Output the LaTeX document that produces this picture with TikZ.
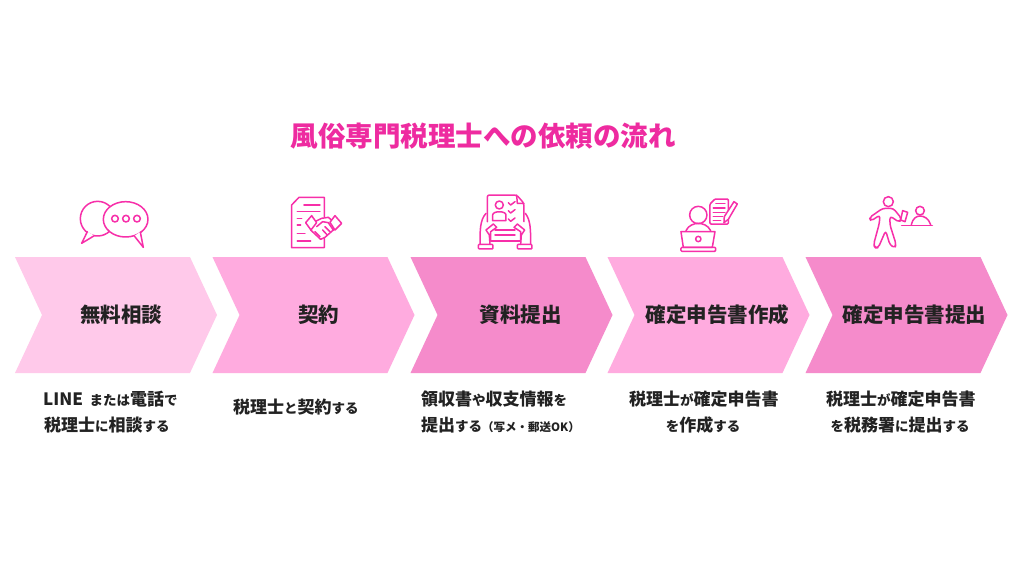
\documentclass[tikz,border=0pt]{standalone}
\usepackage{fontspec}
\setmainfont{Noto Sans CJK JP}
\usetikzlibrary{positioning, calc, shapes.symbols}
\definecolor{lightpink}{HTML}{FFC9EA}
\definecolor{midpink}{HTML}{FFABDF}
\definecolor{deeppink}{HTML}{F58BCB}
\definecolor{iconpink}{HTML}{F72FA9}
\definecolor{titlepink}{HTML}{EE2BA0}
\definecolor{inkgray}{HTML}{222222}
\newcommand{\kn}[1]{{\fontsize{13.5}{13.5}\selectfont #1}}
\newcommand{\paren}[1]{{\fontsize{11.5}{11.5}\selectfont #1}}
\tikzset{
  chevron/.style={
    shape=signal,
    signal from=west,
    signal to=east,
    signal pointer angle=130,
    minimum width=202pt,
    minimum height=116pt,
    inner sep=0pt,
    outer sep=0pt
  },
  headtext/.style={
    font=\fontsize{20.5}{20.5}\selectfont\bfseries,
    text=inkgray,
    inner sep=0pt
  },
  desctext/.style={
    font=\fontsize{17}{17}\selectfont\bfseries,
    text=inkgray,
    inner sep=0pt,
    anchor=base west
  },
  icon/.style={
    draw=iconpink,
    line width=1.5pt,
    line join=round,
    line cap=round
  },
  zoomed/.style={
    x=0.3333pt,
    y=-0.3333pt
  }
}
\begin{document}
\begin{tikzpicture}[x=1pt, y=-1pt]
  \useasboundingbox[fill=white] (0,0) rectangle (1024,576);

  \node[font=\fontsize{27.5}{27.5}\selectfont\bfseries, text=titlepink, inner sep=0pt] (title) at (483,136) {風俗専門税理士への依頼の流れ};

  % arrows
  \node[chevron, fill=lightpink] (soudan) at (116,315) {};
  \node[chevron, fill=midpink] (keiyaku) at (313.5,315) {};
  \node[chevron, fill=deeppink] (shiryou) at (511.5,315) {};
  \node[chevron, fill=midpink] (sakusei) at (708.5,315) {};
  \node[chevron, fill=deeppink] (teishutsu) at (906.5,315) {};

  \node[headtext] (soudanlabel) at ($(soudan.center)+(5,0)$) {無料相談};
  \node[headtext] (keiyakulabel) at ($(keiyaku.center)+(5,0)$) {契約};
  \node[headtext] (shiryoulabel) at ($(shiryou.center)+(9,0)$) {資料提出};
  \node[headtext] (sakuseilabel) at ($(sakusei.center)+(9,0)$) {確定申告書作成};
  \node[headtext] (teishutsulabel) at ($(teishutsu.center)+(8,0)$) {確定申告書提出};

  % descriptions
  \node[desctext] (soudandesc) at (43,405) {LINE {\,}\kn{または}電話\kn{で}};
  \node[desctext] (soudandesctwo) at (44,431) {税理士\kn{に}相談\kn{する}};
  \node[desctext] (keiyakudesc) at (233,413) {税理士\kn{と}契約\kn{する}};
  \node[desctext] (shiryoudesc) at (421,405) {領収書\kn{や}収支情報\kn{を}};
  \node[desctext] (shiryoudesctwo) at (421,431) {提出\kn{する}\paren{（写メ・郵送OK）}};
  \node[desctext] (sakuseidesc) at (629,405) {税理士\kn{が}確定申告書};
  \node[desctext, anchor=base] (sakuseidesctwo) at (703,431) {\kn{を}作成\kn{する}};
  \node[desctext] (teishutsudesc) at (826,405) {税理士\kn{が}確定申告書};
  \node[desctext, anchor=base] (teishutsudesctwo) at (900,431) {\kn{を}税務署\kn{に}提出\kn{する}};

  % talk icon
  \begin{scope}[shift={(0,180)}, zoomed]
    \draw[icon] (293,116) circle (52);
    \draw[icon, fill=white] (262,155) -- (245,190) -- (283,167);
    \draw[icon, fill=white] (377,118) ellipse (67 and 53);
    \draw[icon, fill=white] (403,168) -- (430,202) -- (421,156);
    \draw[icon] (345,116) circle (10);
    \draw[icon] (378,116) circle (10);
    \draw[icon] (411,116) circle (10);
  \end{scope}

  % contract icon
  \begin{scope}[shift={(0,180)}, zoomed]
    \draw[icon] (973,110) -- (973,52) -- (897,52) -- (875,75) -- (875,203) -- (973,203) -- (973,175);
    \draw[icon] (912,75) -- (960,75);
    \draw[icon] (892,95) -- (960,95);
    \draw[icon] (892,115) -- (905,115);
    \draw[icon] (892,135) -- (902,135);
    \draw[icon] (892,160) -- (915,160);
    \draw[icon] (892,183) -- (932,183);
    \draw[icon, fill=white] (945,125) -- (965,115) -- (985,112) -- (997,122) -- (1000,150) -- (975,172) -- (962,178) -- (932,150) -- cycle;
    \draw[icon] (950,140) -- (968,125) -- (985,128) -- (1000,150);
    \draw[icon] (975,140) -- (990,155);
    \draw[icon] (968,150) -- (982,165);
    \draw[icon] (945,155) -- (960,170);
    \draw[icon, fill=white] (935,107) -- (917,128) -- (933,150) -- (950,128) -- cycle;
    \draw[icon, fill=white] (1005,107) -- (1025,130) -- (1005,150) -- (990,127) -- cycle;
  \end{scope}

  % document icon
  \begin{scope}[shift={(400,180)}, zoomed]
    \draw[icon, rounded corners=2pt] (262,125) -- (262,45) -- (350,45) -- (372,70) -- (372,125);
    \draw[icon] (350,45) -- (352,70) -- (372,70);
    \draw[icon] (298,75) circle (12);
    \draw[icon] (278,122) -- (278,105) .. controls (278,92) and (318,92) .. (318,105) -- (318,122) -- cycle;
    \draw[icon] (325,68) -- (332,75) -- (345,65);
    \draw[icon] (325,92) -- (332,99) -- (345,89);
    \draw[icon] (325,117) -- (332,124) -- (345,114);
    \draw[icon] (285,150) -- (345,150);
    \draw[icon] (285,165) -- (345,165);
    \draw[icon] (272,183) -- (362,183);
    \draw[icon] (240,193) .. controls (240,150) and (240,120) .. (258,100);
    \draw[icon] (392,193) .. controls (392,150) and (392,120) .. (376,100);
    \draw[icon, fill=white] (270,193) -- (268,165) -- (258,150) -- (280,132) -- (290,142) -- (272,155) -- (272,183);
    \draw[icon, fill=white] (362,193) -- (364,165) -- (374,150) -- (352,132) -- (342,142) -- (362,155) -- (362,183);
    \draw[icon, rounded corners=1pt] (235,193) rectangle (279,207);
    \draw[icon, rounded corners=1pt] (352,193) rectangle (396,207);
  \end{scope}

  % laptop icon
  \begin{scope}[shift={(400,180)}, zoomed]
    \draw[icon] (895,105) circle (26);
    \draw[icon] (858,152) .. controls (865,135) and (885,130) .. (895,130) .. controls (905,130) and (925,135) .. (932,152);
    \draw[icon] (843,155) -- (945,155) -- (937,202) -- (850,202) -- cycle;
    \draw[icon, rounded corners=1pt] (843,202) rectangle (947,214);
    \draw[icon] (895,177) circle (8);
    \draw[icon, rounded corners=1pt] (930,72) -- (945,57) -- (985,57) -- (985,132) -- (930,132) -- cycle;
    \draw[icon] (948,70) -- (975,70);
    \draw[icon] (940,84) -- (975,84);
    \draw[icon] (940,97) -- (975,97);
    \draw[icon] (940,110) -- (968,110);
    \draw[icon] (940,122) -- (962,122);
    \draw[icon, fill=white] (1002,65) -- (1012,72) -- (985,118) -- (972,128) -- (973,110) -- cycle;
  \end{scope}

  % walking icon
  \begin{scope}[shift={(740,180)}, zoomed]
    \draw[icon] (445,65) circle (15);
    \draw[icon, rounded corners=3pt] (428,85) -- (388,113) -- (393,123) -- (420,105) -- (418,130) -- (401,193) -- (405,204) -- (415,203) -- (437,152) -- (450,195) -- (465,204) -- (468,192) -- (450,135) -- (450,108) -- (478,127) -- (485,116) -- (460,85) -- cycle;
    \draw[icon, fill=white] (488,92) -- (503,97) -- (495,125) -- (482,120) -- cycle;
    \draw[icon] (540,92) circle (13);
    \draw[icon] (514,134) .. controls (518,115) and (530,108) .. (540,108) .. controls (552,108) and (566,115) .. (572,134);
    \draw[icon] (485,137) -- (577,137);
  \end{scope}
\end{tikzpicture}
\end{document}
